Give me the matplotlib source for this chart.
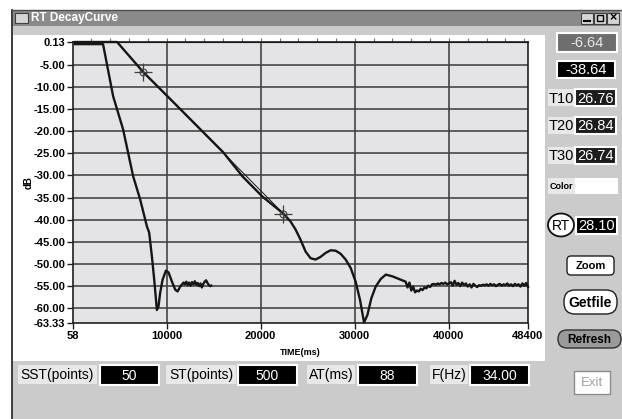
import numpy as np
import matplotlib.pyplot as plt
from matplotlib.patches import Rectangle, FancyBboxPatch, Ellipse

plt.rcParams['font.family'] = ['Liberation Sans', 'DejaVu Sans']

# ---- decay curves (time in ms, level in dB) ----
fast_t = [270, 3250, 4320, 5380, 6450, 7190, 7910, 8150, 8440, 8690, 8970, 9140, 9320,
          9570, 9930, 10210, 10570, 10920, 11170, 11450, 11810,
          11950, 12100, 12250, 12400, 12550, 12700, 12850, 13000, 13150, 13300,
          13450, 13600, 13750, 13900, 14050, 14200, 14350, 14500, 14650, 14750]
fast_db = [-0.35, -0.35, -12.1, -19.6, -30.2, -35.4, -41.5, -42.9, -48.3, -53.6, -60.4, -59.6, -56.5,
           -53.6, -51.5, -51.9, -54.0, -55.8, -56.2, -55.1, -54.2,
           -54.6, -54.0, -54.8, -54.2, -54.9, -54.1, -54.6, -53.9, -54.7, -54.3,
           -55.0, -54.4, -55.3, -54.5, -54.0, -53.7, -54.3, -54.8, -55.0, -54.9]

slow_t = [270, 4740, 7510, 10180, 16030, 18060, 20190, 22420, 23170, 23700, 24230, 24770,
          25300, 25830, 26360, 26900, 27430, 27960, 28490, 29030, 29560, 30090, 30550,
          30980, 31340, 31760, 32220, 32750, 33290, 34000, 34700,
          35400, 35600, 35800, 36000, 36200, 36400, 36600, 36800, 37000, 37200,
          37400, 37600, 37800, 38000, 38200, 38400, 38600, 38800, 39000, 39200,
          39400, 39600, 39800, 40000, 40200, 40400, 40600, 40800, 41000, 41200,
          41400, 41600, 41800, 42000, 42200, 42400, 42600, 42800, 43000, 43200,
          43400, 43600, 43800, 44000, 44200, 44400, 44600, 44800, 45000, 45200,
          45400, 45600, 45800, 46000, 46200, 46400, 46600, 46800, 47000, 47200,
          47400, 47600, 47800, 48000, 48200, 48400]
slow_db = [0.13, 0.13, -6.64, -12.3, -24.8, -30.2, -34.8, -38.64, -40.4, -42.2, -44.5, -47.2,
           -48.7, -49.0, -48.4, -47.5, -46.9, -47.0, -47.7, -49.0, -50.9, -54.0, -58.1,
           -63.2, -61.5, -57.7, -55.1, -53.4, -52.4, -52.8, -53.4,
           -54.0, -55.3, -54.2, -56.0, -55.1, -56.4, -56.0, -56.2, -55.6, -55.9,
           -55.3, -55.5, -54.9, -55.2, -54.6, -54.5, -54.7, -54.4, -54.6, -54.3,
           -54.5, -54.2, -54.6, -54.4, -54.1, -54.9, -53.8, -54.7, -54.3, -55.0,
           -54.2, -54.8, -54.4, -55.1, -54.6, -55.3, -54.5, -54.9, -55.2, -54.8,
           -54.9, -54.7, -54.8, -54.6, -54.9, -54.5, -54.8, -54.6, -55.0, -54.7,
           -54.5, -54.9, -54.6, -54.8, -54.4, -54.9, -54.6, -55.0, -54.5, -54.8,
           -54.6, -55.1, -54.4, -54.9, -54.3, -55.2]

# regression line between the two cursors
cursor_t = [7510, 22420]
cursor_db = [-6.64, -38.64]

y_ticks = [0.13, -5, -10, -15, -20, -25, -30, -35, -40, -45, -50, -55, -60, -63.33]
x_ticks = [58, 10000, 20000, 30000, 40000, 48400]
top_ticks = [2000, 4000, 6000, 8000, 10000, 12000, 14000, 16000, 18000, 20000, 22000, 24000,
             26000, 28000, 30000, 32000, 34000, 36000, 38000, 40000, 42000, 44000, 46000, 48000]

# panel values
cursor_txt = ['-6.64', '-38.64']
t_names = ['T10', 'T20', 'T30']
t_values = ['26.76', '26.84', '26.74']
rt_value = '28.10'
bottom_names = ['SST(points)', 'ST(points)', 'AT(ms)', 'F(Hz)']
bottom_values = ['50', '500', '88', '34.00']

W, H = 622, 419
fig = plt.figure(figsize=(W / 100, H / 100), dpi=100)
fig.patch.set_facecolor('white')

# ---- window drawn in pixel coordinates ----
bg = fig.add_axes([0, 0, 1, 1])
bg.set_xlim(0, W)
bg.set_ylim(H, 0)
bg.axis('off')

gray = '#cbcbcb'
bg.add_patch(Rectangle((12, 10), W - 12, H - 10, fc=gray, ec='none'))
bg.plot([12, 12], [10, H], color='#303030', lw=1.3)
bg.plot([12, W], [10, 10], color='#505050', lw=1.0)
# title bar
bg.add_patch(Rectangle((13, 11), 607, 15, fc='#8a8a8a', ec='none'))
bg.add_patch(Rectangle((15, 13), 13, 10, fc='#d6d6d6', ec='#404040', lw=0.8))
bg.text(31, 18.5, 'RT DecayCurve', color='white', fontsize=8.5, fontweight='bold', va='center')
for i, x0 in enumerate([581, 594, 607]):
    bg.add_patch(Rectangle((x0, 13), 12, 11, fc='#d4d4d4', ec='#404040', lw=0.8))
bg.plot([584, 590], [21.5, 21.5], color='black', lw=1.5)
bg.add_patch(Rectangle((597, 15.5), 6, 6, fc='none', ec='black', lw=1.0))
bg.text(613, 18.5, '×', fontsize=9, fontweight='bold', ha='center', va='center')

# white plot panel
bg.add_patch(Rectangle((13, 35), 532, 326, fc='white', ec='none'))
bg.text(300, 352, 'TIME(ms)', fontsize=6.5, fontweight='bold', ha='center', va='center')
bg.text(29, 183, 'dB', fontsize=7, fontweight='bold', ha='center', va='center', rotation=90)


def value_box(x, y, w, h, txt, fc='black', tc='white', size=10.5):
    bg.add_patch(Rectangle((x, y), w, h, fc=fc, ec='white', lw=1.5))
    bg.text(x + w / 2, y + h / 2 + 0.5, txt, color=tc, fontsize=size, ha='center', va='center')


def label_box(x, y, w, h, txt, size=10.5, weight='normal'):
    bg.add_patch(Rectangle((x, y), w, h, fc='#e8e8e8', ec='none'))
    bg.text(x + w / 2, y + h / 2 + 0.5, txt, fontsize=size, fontweight=weight, ha='center', va='center')


# right side panel
value_box(557, 33, 60, 19, cursor_txt[0], fc='#6e6e6e', tc='#e6e6e6')
value_box(557, 61, 58, 17, cursor_txt[1])
for name, val, y0 in zip(t_names, t_values, [89.5, 116.5, 146.5]):
    label_box(548, y0, 27, 17, name)
    value_box(575, y0, 41, 17, val, fc='#1c1c1c')
label_box(548, 178, 27, 16, 'Color', size=6.5, weight='bold')
bg.add_patch(Rectangle((575, 178), 43, 16, fc='white', ec='none'))
bg.add_patch(Ellipse((561, 225), 26, 23, fc='white', ec='#101010', lw=1.3))
bg.text(561, 225.5, 'RT', fontsize=10, ha='center', va='center')
value_box(576, 217, 41, 17, rt_value)
bg.add_patch(FancyBboxPatch((567, 256), 47, 19, boxstyle='round,pad=0,rounding_size=4',
                            fc='white', ec='#202020', lw=1.0))
bg.text(590.5, 266, 'Zoom', fontsize=8, fontweight='bold', ha='center', va='center')
bg.add_patch(FancyBboxPatch((564, 290), 53, 24, boxstyle='round,pad=0,rounding_size=11',
                            fc='white', ec='#202020', lw=1.0))
bg.text(590.5, 302.5, 'Getfile', fontsize=10, fontweight='bold', ha='center', va='center')
bg.add_patch(FancyBboxPatch((558, 330), 63, 18, boxstyle='round,pad=0,rounding_size=9',
                            fc='#9a9a9a', ec='#303030', lw=1.0))
bg.text(589.5, 339.5, 'Refresh', fontsize=8.5, fontweight='bold', ha='center', va='center')
bg.add_patch(Rectangle((574, 371), 36, 23, fc='white', ec='#8c8c8c', lw=1.0))
bg.text(592, 383, 'Exit', fontsize=9.5, color='#a0a0a0', ha='center', va='center')

# bottom fields
label_x = [18, 166, 307, 430]
label_w = [79, 70, 48, 38]
val_x = [100, 238, 358, 470]
for name, val, lx, lw_, vx in zip(bottom_names, bottom_values, label_x, label_w, val_x):
    label_box(lx, 365, lw_, 19, name, size=10)
    value_box(vx, 365, 59, 20, val, size=10)

# ---- decay plot ----
ax = fig.add_axes([73 / W, 1 - 323 / H, 455 / W, 281 / H])
ax.set_facecolor('#e4e4e6')
ax.set_xlim(58, 48400)
ax.set_ylim(-63.33, 0.13)
for v in y_ticks[1:-1]:
    ax.axhline(v, color='#3a3a3a', lw=1.1, zorder=1)
for v in x_ticks[1:-1]:
    ax.axvline(v, color='#444444', lw=1.2, zorder=1)

ax.plot(fast_t, fast_db, color='#161616', lw=1.7, clip_on=False, zorder=3)
ax.plot(slow_t, slow_db, color='#161616', lw=1.7, clip_on=False, zorder=3)
ax.plot(cursor_t, cursor_db, color='#161616', lw=0.7, zorder=4)
ax.plot(cursor_t, cursor_db, ls='none', marker='+', ms=13, mew=0.9, color='#404040', zorder=5)
ax.plot(cursor_t, cursor_db, ls='none', marker='o', ms=5, mew=0.8, mfc='none', mec='#404040', zorder=5)

ax.set_yticks(y_ticks)
ax.set_yticklabels([f'{v:.2f}' for v in y_ticks], fontweight='bold')
ax.set_xticks(x_ticks)
ax.set_xticklabels([str(v) for v in x_ticks], fontweight='bold')
ax.tick_params(direction='out', length=4, width=1, color='#202020', labelsize=8, pad=1.5)
for s in ax.spines.values():
    s.set_color('#202020')
    s.set_linewidth(1.2)

top = ax.secondary_xaxis('top')
top.set_xticks(top_ticks)
top.set_xticklabels([])
top.tick_params(direction='out', length=3, width=0.8, color='#707070')

fig.savefig('out.png', dpi=100)
